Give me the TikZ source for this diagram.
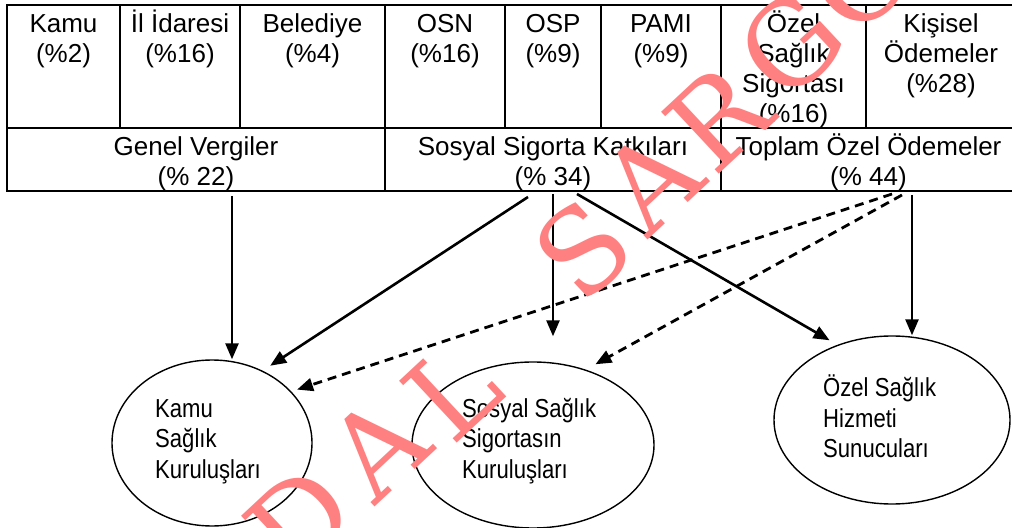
\documentclass[tikz,border=0pt]{standalone}
\usepackage{fontspec}
\newfontfamily\diagsans{Liberation Sans}
\newfontfamily\diagnarrow[FakeStretch=0.85]{Liberation Sans}
\newfontfamily\diagserif{DejaVu Serif}
\usetikzlibrary{arrows.meta,shapes.geometric}
\definecolor{wmcol}{RGB}{255,128,128}
\newcommand\tabfont{\diagsans\fontsize{26bp}{30bp}\selectfont}
\newcommand\elfont{\diagnarrow\fontsize{26bp}{30.5bp}\selectfont}
\newcommand\wmfont{\diagserif\fontsize{116bp}{116bp}\selectfont}
\newcommand\tstrut{\rule{0pt}{22bp}}
\newcommand\estrut{\rule{0pt}{20bp}}
\tikzset{
  cell/.style={draw, line width=2.4bp, rectangle, inner sep=0pt},
  ctext/.style={anchor=north, align=center, inner sep=0pt, font=\tabfont},
  ell/.style={draw, ellipse, line width=1.4bp, inner sep=0pt},
  etext/.style={anchor=north west, align=left, inner sep=0pt, font=\elfont},
  arr/.style={line width=2.6bp, -{Triangle[length=16bp,width=13bp]}},
  darr/.style={arr, line width=2.8bp, dash pattern=on 9bp off 6bp},
  wmk/.style={text=wmcol, font=\wmfont, rotate=43, inner sep=0pt},
}
\begin{document}
\begin{tikzpicture}[x=1bp,y=-1bp]
\useasboundingbox (0,0) rectangle (1012,528);
% top row cells
\node[cell, minimum width=113bp, minimum height=123bp] (c1) at (63.5,66.5) {};
\node[cell, minimum width=120bp, minimum height=123bp] (c2) at (180,66.5) {};
\node[cell, minimum width=145bp, minimum height=123bp] (c3) at (312.5,66.5) {};
\node[cell, minimum width=120bp, minimum height=123bp] (c4) at (445,66.5) {};
\node[cell, minimum width=96bp, minimum height=123bp] (c5) at (553,66.5) {};
\node[cell, minimum width=120bp, minimum height=123bp] (c6) at (661,66.5) {};
\node[cell, minimum width=145bp, minimum height=123bp] (c7) at (793.5,66.5) {};
\node[cell, minimum width=150bp, minimum height=123bp] (c8) at (941,66.5) {};
% bottom row cells
\node[cell, minimum width=378bp, minimum height=63bp] (gv) at (196,159.5) {};
\node[cell, minimum width=336bp, minimum height=63bp] (ssk) at (553,159.5) {};
\node[cell, minimum width=295bp, minimum height=63bp] (toz) at (868.5,159.5) {};
% cell texts
\node[ctext] (t1) at (63.5,10) {\tstrut Kamu\\(\%2)};
\node[ctext] (t2) at (180,10) {\tstrut İl İdaresi\\(\%16)};
\node[ctext] (t3) at (312.5,10) {\tstrut Belediye\\(\%4)};
\node[ctext] (t4) at (445,10) {\tstrut OSN\\(\%16)};
\node[ctext] (t5) at (553,10) {\tstrut OSP\\(\%9)};
\node[ctext] (t6) at (661,10) {\tstrut PAMI\\(\%9)};
\node[ctext] (t7) at (793.5,10) {\tstrut Özel\\Sağlık\\Sigortası\\(\%16)};
\node[ctext] (t8) at (941,10) {\tstrut Kişisel\\Ödemeler\\(\%28)};
\node[ctext] (tgv) at (196,133) {\tstrut Genel Vergiler\\(\% 22)};
\node[ctext] (tssk) at (553,133) {\tstrut Sosyal Sigorta Katkıları\\(\% 34)};
\node[ctext] (ttoz) at (868.5,133) {\tstrut Toplam Özel Ödemeler\\(\% 44)};
% ellipses
\node[ell, minimum width=200bp, minimum height=166bp] (kamuE) at (212,443) {};
\node[ell, minimum width=242bp, minimum height=166bp] (sosE) at (533,445) {};
\node[ell, minimum width=236bp, minimum height=168bp] (ozelE) at (892,420) {};
\node[etext] (kamuT) at (155,397) {\estrut Kamu\\Sağlık\\Kuruluşları};
\node[etext] (sosT) at (462,397) {\estrut Sosyal Sağlık\\Sigortasın\\Kuruluşları};
\node[etext] (ozelT) at (823,375) {\estrut Özel Sağlık\\Hizmeti\\Sunucuları};
% connector start points
\coordinate (s1) at (232,196);
\coordinate (s2) at (528,197);
\coordinate (s3) at (553,194);
\coordinate (s4) at (577,194);
\coordinate (s5) at (912,195);
\coordinate (s6) at (892,194);
\coordinate (s7) at (902,195);
\draw[arr] (s1) -- (s1 |- kamuE.north);
\draw[arr, shorten >=9bp] (s2) -- (kamuE.55);
\draw[arr, shorten >=25bp] (s3) -- (s3 |- sosE.north);
\draw[arr, shorten >=9bp] (s4) -- (ozelE.126);
\draw[arr] (s5) -- (s5 |- ozelE.north);
\draw[darr, shorten >=6bp] (s6) -- (kamuE.33.5);
\draw[darr, shorten >=11bp] (s7) -- (sosE.55);
% watermark
\node[wmk] (w1) at (300,520) {D};
\node[wmk] (w2) at (377,447) {A};
\node[wmk] (w3) at (452,390) {L};
\node[wmk] (w4) at (583,250) {S};
\node[wmk] (w5) at (650,180) {A};
\node[wmk] (w6) at (718,118) {R};
\node[wmk] (w7) at (791,44) {G};
\node[wmk] (w8) at (860,-22) {O};
\end{tikzpicture}
\end{document}
